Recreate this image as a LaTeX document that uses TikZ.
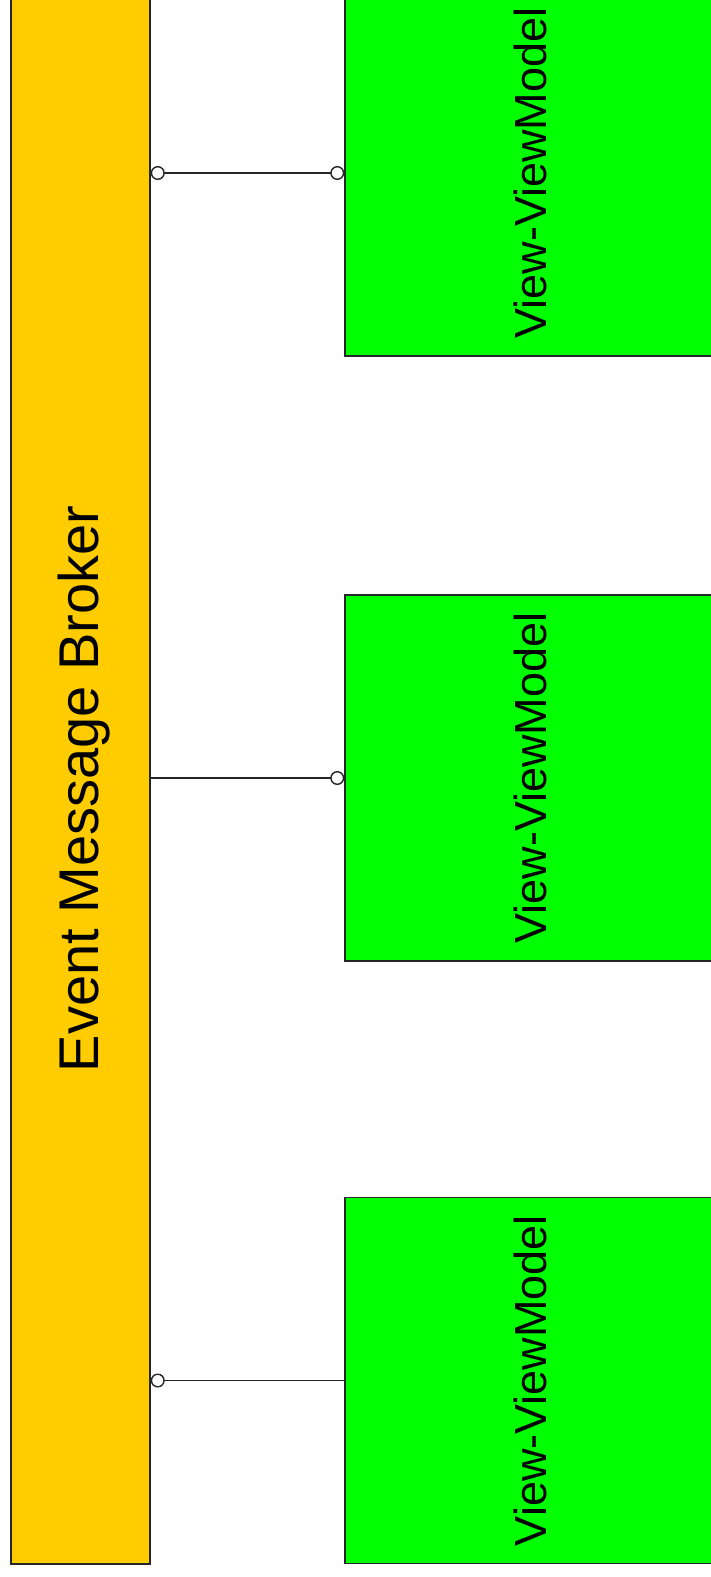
\documentclass[tikz,border=0pt]{standalone}
\usepackage{graphicx}
\usepackage{fontspec}
\setmainfont{Liberation Sans}
\usetikzlibrary{arrows.meta}

\definecolor{brokeryellow}{HTML}{FFCC00}
\definecolor{viewgreen}{HTML}{00FF00}

\begin{document}
\begin{tikzpicture}[x=1pt,y=-1pt,
  brokerbar/.style={draw=black!85,line width=1.5pt,fill=brokeryellow,
    minimum width=139pt,minimum height=1574pt,inner sep=0pt},
  brokername/.style={rotate=90,inner sep=0pt,
    font=\fontsize{56}{60}\selectfont},
  viewbox/.style={draw=black!85,line width=1.5pt,fill=viewgreen,
    minimum width=370pt,minimum height=366pt,inner sep=0pt,
    font=\fontsize{45}{50}\selectfont},
  link/.style={black!85,line width=1.6pt},
  sock/.tip={Circle[open,length=14pt,width=14pt,line width=1.4pt]}]
\useasboundingbox (0,0) rectangle (711,1577);
\clip (0,0) rectangle (711,1577);
% broker bar on the left
\node[brokerbar] (broker) at (80.5,777) {};
\node[brokername] (brokerlabel) at (84,789) {Event Message Broker};
% the three view boxes
\node[viewbox] (vvm1) at (530,173)    {\rotatebox{90}{View-ViewModel}};
\node[viewbox] (vvm2) at (530,778)    {\rotatebox{90}{View-ViewModel}};
\node[viewbox] (vvm3) at (530,1380.5) {\rotatebox{90}{View-ViewModel}};
% links
\draw[link,{sock}-{sock}] (broker.east |- vvm1.west) -- (vvm1.west);
\draw[link,-{sock}] (broker.east |- vvm2.west) -- (vvm2.west);
\draw[link,{sock}-] (broker.east |- vvm3.west) -- (vvm3.west);
\end{tikzpicture}
\end{document}
